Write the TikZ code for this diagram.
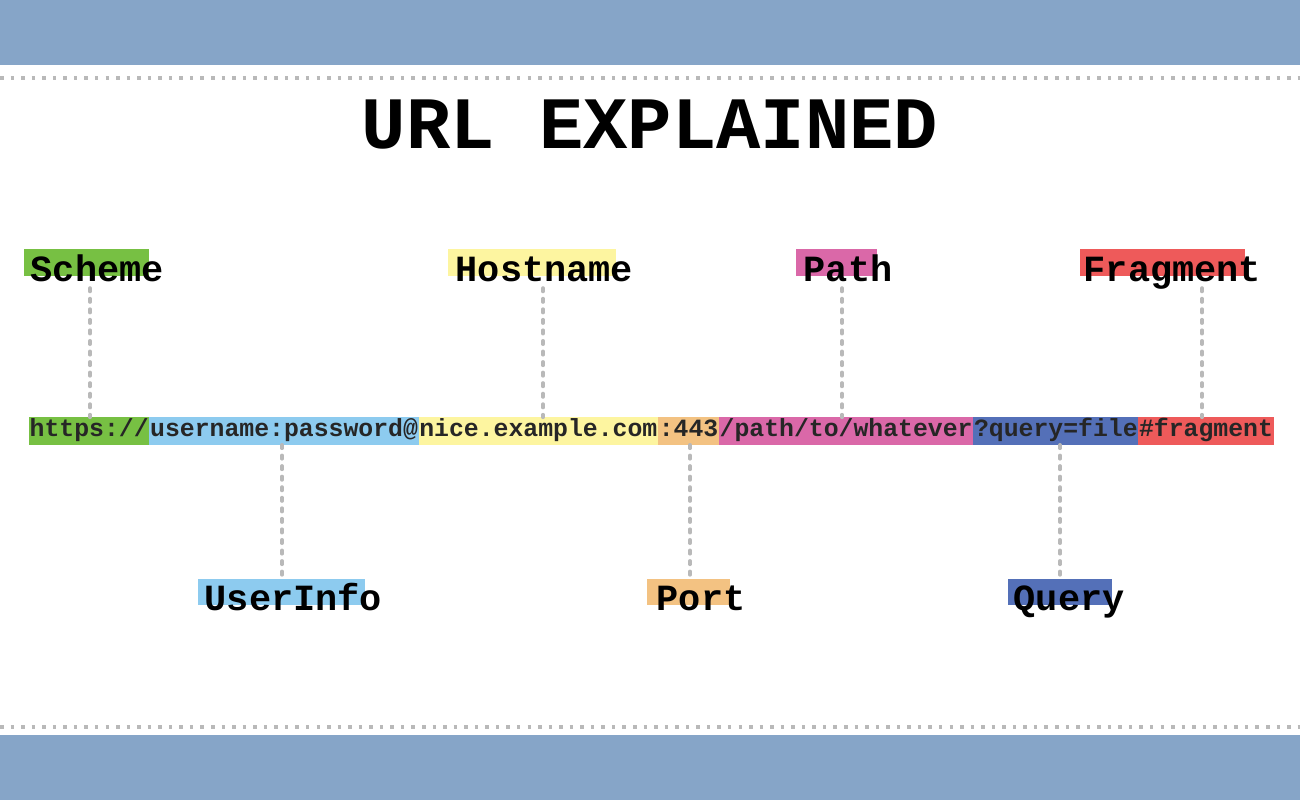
\documentclass[tikz,border=0pt]{standalone}
\usepackage{fontspec}
\setmonofont{Liberation Mono}
\usetikzlibrary{positioning}
\definecolor{band}{HTML}{86A5C8}
\definecolor{cscheme}{HTML}{77C043}
\definecolor{cuser}{HTML}{8DCBEF}
\definecolor{chost}{HTML}{FDF5A0}
\definecolor{cport}{HTML}{F3C282}
\definecolor{cpath}{HTML}{DA68A8}
\definecolor{cquery}{HTML}{5470B8}
\definecolor{cfrag}{HTML}{EE5A5A}
\tikzset{
  seg/.style={inner sep=0pt, anchor=base west, text height=5.1pt, text depth=2.3pt,
    font=\ttfamily\bfseries\fontsize{7.05}{8}\selectfont, text=black!85,
    fill=#1, draw=#1, line width=0.4pt},
  lbl/.style={inner sep=0pt, anchor=base west, font=\ttfamily\bfseries\fontsize{10.5}{12}\selectfont},
  conn/.style={gray!55, line width=1pt, dotted, line cap=round},
  sep/.style={gray!55, line width=1pt, dotted}
}
\begin{document}
\begin{tikzpicture}[x=0.01cm,y=-0.01cm]
\useasboundingbox (0,0) rectangle (1300,800);
\fill[band] (0,0) rectangle (1300,65);
\fill[band] (0,735) rectangle (1300,800);
\draw[sep] (0,78) -- (1300,78);
\draw[sep] (0,727) -- (1300,727);

\node[font=\ttfamily\bfseries\fontsize{21}{24}\selectfont] (title) at (650,125) {URL EXPLAINED};

% the url
\node[seg=cscheme] (s1) at (29,436) {https://};
\node[seg=cuser] (s2) at (s1.base east) {username:password@};
\node[seg=chost] (s3) at (s2.base east) {nice.example.com};
\node[seg=cport] (s4) at (s3.base east) {:443};
\node[seg=cpath] (s5) at (s4.base east) {/path/to/whatever};
\node[seg=cquery] (s6) at (s5.base east) {?query=file};
\node[seg=cfrag] (s7) at (s6.base east) {\#fragment};

% labels above
\fill[cscheme] (24,249) rectangle (149,276);
\node[lbl] (scheme) at (30,281) {Scheme};
\fill[chost] (448,249) rectangle (616,276);
\node[lbl] (host) at (455,281) {Hostname};
\fill[cpath] (796,249) rectangle (877,276);
\node[lbl] (path) at (803,281) {Path};
\fill[cfrag] (1080,249) rectangle (1245,276);
\node[lbl] (frag) at (1083,281) {Fragment};

% labels below
\fill[cuser] (198,579) rectangle (365,605);
\node[lbl] (user) at (204,610) {UserInfo};
\fill[cport] (647,579) rectangle (730,605);
\node[lbl] (port) at (656,610) {Port};
\fill[cquery] (1008,579) rectangle (1112,605);
\node[lbl] (query) at (1013,610) {Query};

% connectors
\draw[conn] (90,288) -- (s1.north -| 90,0);
\draw[conn] (543,288) -- (s3.north -| 543,0);
\draw[conn] (842,288) -- (s5.north -| 842,0);
\draw[conn] (1202,288) -- (s7.north -| 1202,0);
\draw[conn] (s2.south -| 282,0) -- (282,578);
\draw[conn] (s4.south -| 690,0) -- (690,578);
\draw[conn] (s6.south -| 1060,0) -- (1060,578);
\end{tikzpicture}
\end{document}
